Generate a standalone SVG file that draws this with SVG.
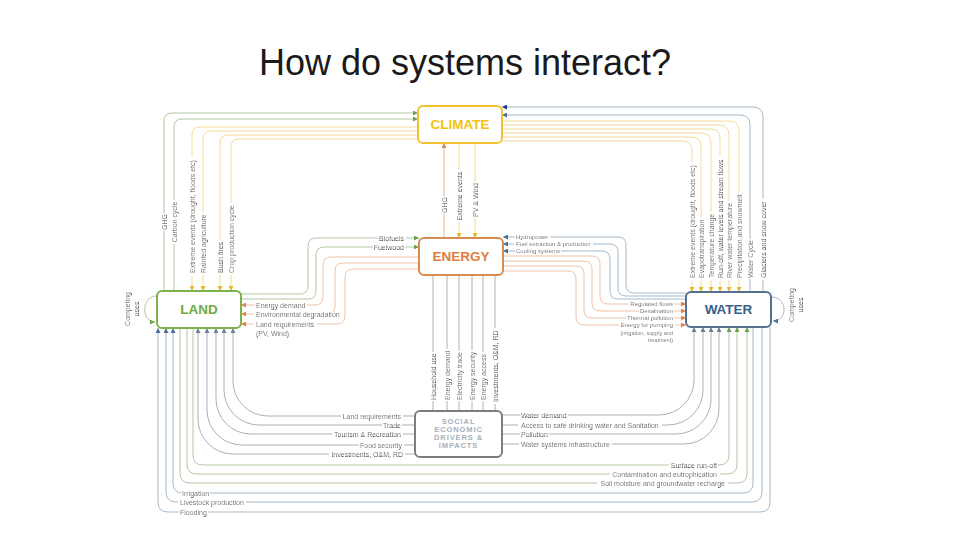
<svg xmlns="http://www.w3.org/2000/svg" width="960" height="540" viewBox="0 0 960 540">
<style>
.c{fill:none;stroke-width:1}
.g{stroke:#b3c7a3}.y{stroke:#f2dc92}.o{stroke:#eec2a5}.b{stroke:#a5b9cb}.k{stroke:#b0b0b0}.t{stroke:#dcb899}
.lbl{font-family:"Liberation Sans",Arial,sans-serif;font-size:7px;fill:#333;dominant-baseline:central;filter:url(#bg)}
.sm{font-size:6px}
.xs{font-size:5.5px}
.nt{font-family:"Liberation Sans",Arial,sans-serif;font-size:13.5px;font-weight:bold;text-anchor:middle;dominant-baseline:central}
.box{fill:#fff;stroke-width:2}
</style>
<defs>
<filter id="bg" x="-0.05" y="-0.2" width="1.1" height="1.4" primitiveUnits="objectBoundingBox"><feFlood flood-color="#ffffff" x="-0.02" y="0.22" width="1.04" height="0.56"/><feComposite in="SourceGraphic" operator="over"/></filter>
<marker id="aG" viewBox="0 0 6 6" refX="6" refY="3" markerWidth="5" markerHeight="5" orient="auto" markerUnits="userSpaceOnUse"><path d="M0,0 L6,3 L0,6 z" fill="#6e9f4c"/></marker>
<marker id="aY" viewBox="0 0 6 6" refX="6" refY="3" markerWidth="5" markerHeight="5" orient="auto" markerUnits="userSpaceOnUse"><path d="M0,0 L6,3 L0,6 z" fill="#eab72a"/></marker>
<marker id="aO" viewBox="0 0 6 6" refX="6" refY="3" markerWidth="5" markerHeight="5" orient="auto" markerUnits="userSpaceOnUse"><path d="M0,0 L6,3 L0,6 z" fill="#e2834a"/></marker>
<marker id="aB" viewBox="0 0 6 6" refX="6" refY="3" markerWidth="5" markerHeight="5" orient="auto" markerUnits="userSpaceOnUse"><path d="M0,0 L6,3 L0,6 z" fill="#48709a"/></marker>
<marker id="aN" viewBox="0 0 6 6" refX="6" refY="3" markerWidth="5" markerHeight="5" orient="auto" markerUnits="userSpaceOnUse"><path d="M0,0 L6,3 L0,6 z" fill="#1d3a8a"/></marker>
<marker id="aK" viewBox="0 0 6 6" refX="6" refY="3" markerWidth="5" markerHeight="5" orient="auto" markerUnits="userSpaceOnUse"><path d="M0,0 L6,3 L0,6 z" fill="#6f8196"/></marker>
<marker id="aT" viewBox="0 0 6 6" refX="6" refY="3" markerWidth="5" markerHeight="5" orient="auto" markerUnits="userSpaceOnUse"><path d="M0,0 L6,3 L0,6 z" fill="#d08e5e"/></marker>
</defs>
<rect width="960" height="540" fill="#fff"/>
<text x="465" y="75" font-family="'Liberation Sans',Arial,sans-serif" font-size="36" text-anchor="middle" fill="#1a1a1a">How do systems interact?</text>

<g id="connectors">
<!-- Land <-> Climate -->
<path class="c g" d="M164,291 L164,121 Q164,113 172,113 L418,113" marker-end="url(#aG)"/>
<path class="c g" d="M174,291 L174,127 Q174,119 182,119 L418,119" marker-end="url(#aG)"/>
<path class="c y" d="M418,127 L200,127 Q192,127 192,135 L192,291" marker-end="url(#aY)"/>
<path class="c y" d="M418,131 L211,131 Q203,131 203,139 L203,291" marker-end="url(#aY)"/>
<path class="c y" d="M418,135 L228,135 Q220,135 220,143 L220,291" marker-end="url(#aY)"/>
<path class="c y" d="M418,139 L239,139 Q231,139 231,147 L231,291" marker-end="url(#aY)"/>
<!-- Water <-> Climate -->
<path class="c b" d="M763,292 L763,117 Q763,107 753,107 L502,107" marker-end="url(#aN)"/>
<path class="c b" d="M750,292 L750,125 Q750,115 740,115 L502,115" marker-end="url(#aB)"/>
<path class="c y" d="M502,121 L729,121 Q739,121 739,131 L739,292" marker-end="url(#aY)"/>
<path class="c y" d="M502,125 L719,125 Q729,125 729,135 L729,292" marker-end="url(#aY)"/>
<path class="c y" d="M502,129 L710,129 Q720,129 720,139 L720,292" marker-end="url(#aY)"/>
<path class="c y" d="M502,133 L701,133 Q711,133 711,143 L711,292" marker-end="url(#aY)"/>
<path class="c y" d="M502,137 L691,137 Q701,137 701,147 L701,292" marker-end="url(#aY)"/>
<path class="c y" d="M502,141 L682,141 Q692,141 692,151 L692,292" marker-end="url(#aY)"/>
<!-- Climate <-> Energy -->
<path class="c t" d="M444,238 L444,143" marker-end="url(#aT)"/>
<path class="c y" d="M459,143 L459,238" marker-end="url(#aY)"/>
<path class="c y" d="M475,143 L475,238" marker-end="url(#aY)"/>
<!-- Land <-> Energy -->
<path class="c g" d="M241,294 L300,294 Q308,294 308,286 L308,246 Q308,238 316,238 L419,238" marker-end="url(#aG)"/>
<path class="c g" d="M241,299 L308,299 Q316,299 316,291 L316,255 Q316,247 324,247 L419,247" marker-end="url(#aG)"/>
<path class="c o" d="M419,257 L331,257 Q323,257 323,265 L323,297 Q323,305 315,305 L241,305" marker-end="url(#aO)"/>
<path class="c o" d="M419,263 L343,263 Q335,263 335,271 L335,306 Q335,314 327,314 L241,314" marker-end="url(#aO)"/>
<path class="c o" d="M419,269 L353,269 Q345,269 345,277 L345,316 Q345,324 337,324 L241,324" marker-end="url(#aO)"/>
<!-- Water <-> Energy -->
<path class="c b" d="M686,293 L634,293 Q626,293 626,285 L626,245 Q626,237 618,237 L503,237" marker-end="url(#aB)"/>
<path class="c b" d="M686,296 L626,296 Q618,296 618,288 L618,252 Q618,244 610,244 L503,244" marker-end="url(#aB)"/>
<path class="c b" d="M686,299 L618,299 Q610,299 610,291 L610,259 Q610,251 602,251 L503,251" marker-end="url(#aB)"/>
<path class="c o" d="M503,256 L592,256 Q600,256 600,264 L600,296 Q600,304 608,304 L686,304" marker-end="url(#aO)"/>
<path class="c o" d="M503,261 L584,261 Q592,261 592,269 L592,303 Q592,311 600,311 L686,311" marker-end="url(#aO)"/>
<path class="c o" d="M503,266 L576,266 Q584,266 584,274 L584,310 Q584,318 592,318 L686,318" marker-end="url(#aO)"/>
<path class="c o" d="M503,271 L568,271 Q576,271 576,279 L576,317 Q576,325 584,325 L686,325" marker-end="url(#aO)"/>
<!-- Energy -> Social -->
<path class="c k" d="M433,275 L433,411 M447,275 L447,411 M459,275 L459,411 M472,275 L472,411 M483,275 L483,411 M495,275 L495,411"/>
<!-- Social -> Land -->
<path class="c k" d="M415,416 L268,416 A35,35 0 0 1 233,381 L233,328" marker-end="url(#aK)"/>
<path class="c k" d="M415,425 L259,425 A35,35 0 0 1 224,390 L224,328" marker-end="url(#aK)"/>
<path class="c k" d="M415,434 L251,434 A35,35 0 0 1 216,399 L216,328" marker-end="url(#aK)"/>
<path class="c k" d="M415,445 L242,445 A35,35 0 0 1 207,410 L207,328" marker-end="url(#aK)"/>
<path class="c k" d="M415,454 L233,454 A35,35 0 0 1 198,419 L198,328" marker-end="url(#aK)"/>
<!-- Social -> Water -->
<path class="c k" d="M502,415 L659,415 A35,35 0 0 0 694,380 L694,327" marker-end="url(#aK)"/>
<path class="c k" d="M502,425 L668,425 A35,35 0 0 0 703,390 L703,327" marker-end="url(#aK)"/>
<path class="c k" d="M502,434 L676,434 A35,35 0 0 0 711,399 L711,327" marker-end="url(#aK)"/>
<path class="c k" d="M502,444 L684,444 A35,35 0 0 0 719,409 L719,327" marker-end="url(#aK)"/>
<!-- Land -> Water -->
<path class="c g" d="M193,328 L193,455 Q193,465 203,465 L719,465 Q729,465 729,455 L729,327" marker-end="url(#aG)"/>
<path class="c g" d="M187,328 L187,464 Q187,474 197,474 L727,474 Q737,474 737,464 L737,327" marker-end="url(#aG)"/>
<path class="c g" d="M180,328 L180,473 Q180,483 190,483 L737,483 Q747,483 747,473 L747,327" marker-end="url(#aG)"/>
<!-- Water -> Land -->
<path class="c b" d="M753,327 L753,483 Q753,493 743,493 L183,493 Q173,493 173,483 L173,328" marker-end="url(#aB)"/>
<path class="c b" d="M762,327 L762,492 Q762,502 752,502 L176,502 Q166,502 166,492 L166,328" marker-end="url(#aB)"/>
<path class="c b" d="M770,327 L770,502 Q770,512 760,512 L168,512 Q158,512 158,502 L158,328" marker-end="url(#aB)"/>
<!-- Competing uses -->
<path class="c g" d="M157,296 C141,296 141,322 155,322" marker-end="url(#aG)"/>
<path class="c b" d="M771,297 C788,297 788,321 773,321" marker-end="url(#aB)"/>
</g>

<g id="labels">
<text class="lbl" text-anchor="middle" transform="translate(164,222) rotate(-90)">GHG</text>
<text class="lbl" text-anchor="middle" transform="translate(174,222) rotate(-90)">Carbon cycle</text>
<text class="lbl" transform="translate(192,273) rotate(-90)">Extreme events (drought, floods etc)</text>
<text class="lbl" transform="translate(203,273) rotate(-90)">Rainfed agriculture</text>
<text class="lbl" transform="translate(220,273) rotate(-90)">Bush fires</text>
<text class="lbl" transform="translate(231,273) rotate(-90)">Crop production cycle</text>
<text class="lbl" transform="translate(692,278) rotate(-90)">Extreme events (drought, floods etc)</text>
<text class="lbl" transform="translate(701,278) rotate(-90)">Evapotranspiration</text>
<text class="lbl" transform="translate(711,278) rotate(-90)">Temperature change</text>
<text class="lbl" transform="translate(720,278) rotate(-90)">Run-off, water levels and stream flows</text>
<text class="lbl" transform="translate(729,278) rotate(-90)">River water temperature</text>
<text class="lbl" transform="translate(739,278) rotate(-90)">Precipitation and snowmelt</text>
<text class="lbl" transform="translate(750,278) rotate(-90)">Water Cycle</text>
<text class="lbl" transform="translate(763,278) rotate(-90)">Glaciers and snow cover</text>
<text class="lbl" text-anchor="middle" transform="translate(444,205) rotate(-90)">GHG</text>
<text class="lbl" text-anchor="middle" transform="translate(459,196) rotate(-90)">Extreme events</text>
<text class="lbl" text-anchor="middle" transform="translate(475,200) rotate(-90)">PV &amp; Wind</text>
<text class="lbl" x="404" y="238" text-anchor="end">Biofuels</text>
<text class="lbl" x="404" y="247" text-anchor="end">Fuelwood</text>
<text class="lbl" x="256" y="305">Energy demand</text>
<text class="lbl" x="256" y="314">Environmental degradation</text>
<text class="lbl" x="256" y="324">Land requirements</text>
<text class="lbl" x="256" y="333">(PV, Wind)</text>
<text class="lbl sm" x="516" y="237">Hydropower</text>
<text class="lbl sm" x="516" y="244">Fuel extraction &amp; production</text>
<text class="lbl sm" x="516" y="251">Cooling systems</text>
<text class="lbl sm" x="673" y="304" text-anchor="end">Regulated flows</text>
<text class="lbl sm" x="673" y="311" text-anchor="end">Desalination</text>
<text class="lbl sm" x="673" y="318" text-anchor="end">Thermal pollution</text>
<text class="lbl sm" x="673" y="325" text-anchor="end">Energy for pumping</text>
<text class="lbl xs" x="673" y="333" text-anchor="end">(irrigation, supply and</text>
<text class="lbl xs" x="673" y="340" text-anchor="end">treatment)</text>
<text class="lbl" transform="translate(433,400) rotate(-90)">Household use</text>
<text class="lbl" transform="translate(447,400) rotate(-90)">Energy demand</text>
<text class="lbl" transform="translate(459,400) rotate(-90)">Electricity trade</text>
<text class="lbl" transform="translate(472,400) rotate(-90)">Energy security</text>
<text class="lbl" transform="translate(483,400) rotate(-90)">Energy access</text>
<text class="lbl" transform="translate(495,402) rotate(-90)">Investments, O&amp;M, RD</text>
<text class="lbl" x="401" y="416" text-anchor="end">Land requirements</text>
<text class="lbl" x="401" y="425" text-anchor="end">Trade</text>
<text class="lbl" x="401" y="434" text-anchor="end">Tourism &amp; Recreation</text>
<text class="lbl" x="402" y="445" text-anchor="end">Food security</text>
<text class="lbl" x="403" y="454" text-anchor="end">Investments, O&amp;M, RD</text>
<text class="lbl" x="521" y="415">Water demand</text>
<text class="lbl" x="521" y="425">Access to safe drinking water and Sanitation</text>
<text class="lbl" x="521" y="434">Pollution</text>
<text class="lbl" x="521" y="444">Water systems infrastructure</text>
<text class="lbl" x="717" y="465" text-anchor="end">Surface run-off</text>
<text class="lbl" x="717" y="474" text-anchor="end">Contamination and eutrophication</text>
<text class="lbl" x="725" y="483" text-anchor="end">Soil moisture and groundwater recharge</text>
<text class="lbl" x="182" y="493">Irrigation</text>
<text class="lbl" x="180" y="502">Livestock production</text>
<text class="lbl" x="180" y="512">Flooding</text>
<text class="lbl" text-anchor="middle" transform="translate(127,309) rotate(-90)">Competing</text>
<text class="lbl" text-anchor="middle" transform="translate(136,309) rotate(-90)">uses</text>
<text class="lbl" text-anchor="middle" transform="translate(791,305) rotate(-90)">Competing</text>
<text class="lbl" text-anchor="middle" transform="translate(800,305) rotate(-90)">uses</text>
</g>

<g id="climate">
<rect class="box" x="418" y="106" width="84" height="37" rx="5" stroke="#f2c230"/>
<text class="nt" x="460" y="124.5" fill="#f5c20a">CLIMATE</text>
</g>
<g id="energy">
<rect class="box" x="419" y="238" width="84" height="37" rx="5" stroke="#d98b4e"/>
<text class="nt" x="461" y="256.5" fill="#e07c3e">ENERGY</text>
</g>
<g id="land">
<rect class="box" x="157" y="291" width="84" height="37" rx="5" stroke="#7cb24b"/>
<text class="nt" x="199" y="309.5" fill="#70ab3c">LAND</text>
</g>
<g id="water">
<rect class="box" x="686" y="292" width="85" height="35" rx="5" stroke="#55718f"/>
<text class="nt" x="728.5" y="309.5" fill="#3c6189">WATER</text>
</g>
<g id="social">
<rect class="box" x="415" y="411" width="87" height="46" rx="5" stroke="#7d7d7d" stroke-width="1.5"/>
<g font-family="'Liberation Sans',Arial,sans-serif" font-size="7.5" font-weight="bold" fill="#a5b0be" text-anchor="middle" letter-spacing="0.9">
<text x="458.5" y="424">SOCIAL</text>
<text x="458.5" y="432">ECONOMIC</text>
<text x="458.5" y="440">DRIVERS &amp;</text>
<text x="458.5" y="448">IMPACTS</text>
</g>
</g>
</svg>
